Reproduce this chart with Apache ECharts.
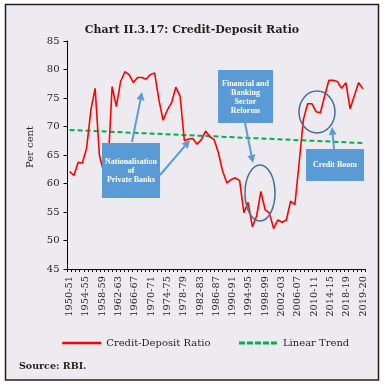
<!DOCTYPE html>
<html><head><meta charset="utf-8">
<script src="https://cdn.jsdelivr.net/npm/echarts@6/dist/echarts.min.js"></script>
<style>html,body{margin:0;padding:0;background:#fff}#c{width:384px;height:385px}</style>
</head><body><div id="c"></div>
<script>
const categories = ['1950-51','1951-52','1952-53','1953-54','1954-55','1955-56','1956-57','1957-58','1958-59','1959-60',
'1960-61','1961-62','1962-63','1963-64','1964-65','1965-66','1966-67','1967-68','1968-69','1969-70',
'1970-71','1971-72','1972-73','1973-74','1974-75','1975-76','1976-77','1977-78','1978-79','1979-80',
'1980-81','1981-82','1982-83','1983-84','1984-85','1985-86','1986-87','1987-88','1988-89','1989-90',
'1990-91','1991-92','1992-93','1993-94','1994-95','1995-96','1996-97','1997-98','1998-99','1999-00',
'2000-01','2001-02','2002-03','2003-04','2004-05','2005-06','2006-07','2007-08','2008-09','2009-10',
'2010-11','2011-12','2012-13','2013-14','2014-15','2015-16','2016-17','2017-18','2018-19','2019-20'];

const creditDeposit = [62.1,61.4,63.7,63.6,66.2,72.9,76.7,65.0,62.0,62.5,
77.0,73.5,77.9,79.6,79.1,77.7,78.6,78.6,78.3,79.1,
79.4,74.7,71.1,72.9,74.2,76.9,75.3,67.5,67.8,67.9,
66.9,67.7,69.2,68.2,67.7,65.4,62.2,60.1,60.7,61.0,
60.5,54.9,56.7,52.4,54.3,58.6,55.4,54.8,52.1,53.6,
53.2,53.6,56.9,56.3,63.6,71.2,74.0,74.0,72.6,72.4,
75.3,78.1,78.1,77.9,76.7,77.7,73.1,75.4,77.7,76.6];

// Linear trend read at both ends of the period
const trendStart = 69.4;
const trendEnd = 67.1;

// Tick labels as printed under the axis (one every fourth tick slot)
const tickLabels = ['1950-51','1954-55','1958-59','1962-63','1966-67','1970-71','1974-75','1978-79','1982-83',
'1986-87','1990-91','1994-95','1998-99','2002-03','2006-07','2010-11','2014-15','2018-19','2019-20'];

const yTicks = {min: 45, max: 85, step: 5};

const FONT = 'DejaVu Serif';
const INK = '#231f20';
const BLUE = '#5b9bd5';
const RING = '#41719c';

// label slots: tick labels spaced four slots apart
const labelSlots = [];
for (let k = 0; k < (tickLabels.length - 1) * 4 + 1; k++) {
  labelSlots.push(k % 4 === 0 ? tickLabels[k / 4] : '');
}

function arrow(x1, y1, x2, y2) {
  const dx = x2 - x1, dy = y2 - y1, L = Math.hypot(dx, dy);
  const ux = dx / L, uy = dy / L, hl = 8, hw = 4;
  const bx = x2 - ux * hl, by = y2 - uy * hl;
  return [
    {type: 'line', z: 50, shape: {x1: x1, y1: y1, x2: bx, y2: by}, style: {stroke: BLUE, lineWidth: 2}},
    {type: 'polygon', z: 50, shape: {points: [[x2, y2], [bx - uy * hw, by + ux * hw], [bx + uy * hw, by - ux * hw]]}, style: {fill: BLUE}}
  ];
}

function box(x, y, w, h, lines, cx, ys) {
  const els = [{type: 'rect', z: 50, shape: {x: x, y: y, width: w, height: h}, style: {fill: BLUE}}];
  lines.forEach((t, i) => els.push({type: 'text', z: 51, style: {text: t, x: cx, y: ys[i], align: 'center', verticalAlign: 'middle', fill: '#fff', font: 'bold 8px "Liberation Serif"'}}));
  return els;
}

const graphics = [].concat(
  [{type: 'rect', z: -10, shape: {x: 5.5, y: 4.5, width: 373, height: 375.5}, style: {fill: '#eeebf0', stroke: INK, lineWidth: 1.5}}],
  [{type: 'text', z: 5, rotation: Math.PI / 2, x: 30, y: 147, style: {text: 'Per cent', align: 'center', verticalAlign: 'middle', fill: INK, font: '10px "DejaVu Serif"'}}],
  [{type: 'text', z: 5, style: {text: 'Source: RBI.', x: 19, y: 367, verticalAlign: 'middle', fill: INK, font: 'bold 9.5px "DejaVu Serif"'}}],
  box(102, 143, 58, 55, ['Nationalisation', 'of', 'Private Banks'], 131, [161.7, 170.7, 180]),
  box(218, 70, 55, 53, ['Financial and', 'Banking', 'Sector', 'Reforms'], 245.5, [84, 92.7, 101.7, 110.7]),
  box(306, 149, 58, 32, ['Credit Boom'], 335, [164.5]),
  arrow(132, 142, 142, 92),
  arrow(160, 175, 190, 140),
  arrow(245, 123, 253, 163),
  arrow(334, 149, 332, 127),
  [{type: 'ellipse', z: 49, shape: {cx: 260, cy: 193, rx: 15, ry: 28}, style: {fill: null, stroke: RING, lineWidth: 1.5}},
   {type: 'ellipse', z: 49, shape: {cx: 317, cy: 112, rx: 18, ry: 21}, style: {fill: null, stroke: RING, lineWidth: 1.5}}]
);

const chart = echarts.init(document.getElementById('c'), null, {renderer: 'canvas'});
chart.setOption({
  backgroundColor: 'transparent',
  animation: false,
  title: {text: 'Chart II.3.17: Credit-Deposit Ratio', left: 'center', top: 20,
    textStyle: {fontFamily: FONT, fontWeight: 'bold', fontSize: 11, color: INK}},
  grid: {left: 67.5, right: 19, top: 41, bottom: 116, containLabel: false},
  xAxis: [
    {type: 'category', data: categories, boundaryGap: true, show: false},
    {type: 'category', data: labelSlots, boundaryGap: true, position: 'bottom',
      axisLine: {show: true, lineStyle: {color: '#000', width: 1}},
      axisTick: {show: true, interval: 0, length: 3, lineStyle: {color: '#000'}},
      axisLabel: {interval: 0, rotate: 90, margin: 7, fontFamily: FONT, fontSize: 9.8, color: INK},
      splitLine: {show: false}}
  ],
  yAxis: {type: 'value', min: yTicks.min, max: yTicks.max, interval: yTicks.step,
    axisLine: {show: true, lineStyle: {color: '#000', width: 1}},
    axisTick: {show: true, length: 4, lineStyle: {color: '#000'}},
    splitLine: {show: false},
    axisLabel: {fontFamily: FONT, fontSize: 10, color: INK, margin: 8}},
  legend: {left: 56, top: 333, itemWidth: 39, itemHeight: 10, itemGap: 27,
    textStyle: {fontFamily: FONT, fontSize: 10, color: INK},
    itemStyle: {opacity: 0},
    data: [{name: 'Credit-Deposit Ratio', itemStyle: {opacity: 0}, lineStyle: {width: 2.5}},
           {name: 'Linear Trend', itemStyle: {opacity: 0}, lineStyle: {width: 3, type: [6, 2]}}]},
  series: [
    {name: 'Credit-Deposit Ratio', type: 'line', xAxisIndex: 0, data: creditDeposit, symbol: 'none',
      lineStyle: {color: '#ff0000', width: 1.6}, itemStyle: {color: '#ff0000'}, z: 3},
    {name: 'Linear Trend', type: 'line', xAxisIndex: 0,
      data: [[categories[0], trendStart], [categories[categories.length - 1], trendEnd]], symbol: 'none',
      lineStyle: {color: '#00b050', width: 2, type: [5, 3]}, itemStyle: {color: '#00b050'}, z: 2}
  ],
  graphic: graphics
});
</script></body></html>
